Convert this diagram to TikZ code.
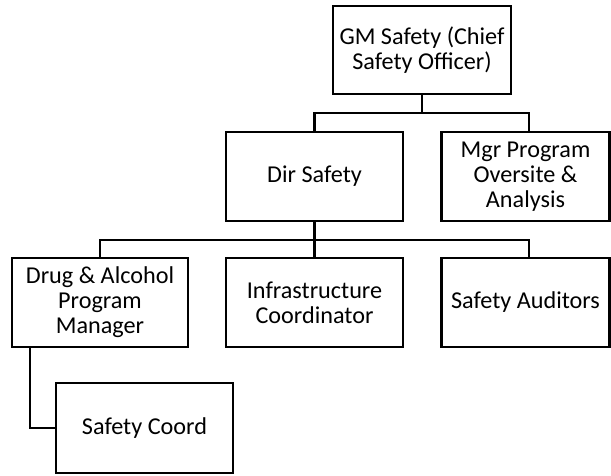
\documentclass[tikz,border=0pt]{standalone}
\usepackage{fontspec}
\setmainfont{Carlito}
\begin{document}
\begin{tikzpicture}[x=1pt,y=-1pt,
  box/.style={draw=black,line width=2.8pt,fill=white,rectangle,align=center,
    inner sep=2pt,font=\fontsize{24.2}{25}\selectfont},
  conn/.style={draw=black,line width=2.8pt}]
\useasboundingbox (0,0) rectangle (611,475);
\node[box,minimum width=178pt,minimum height=88pt] (gm) at (422,50) {GM Safety (Chief\\Safety Officer)};
\node[box,minimum width=177pt,minimum height=89pt] (dir) at (314.5,176.5) {Dir Safety};
\node[box,minimum width=168pt,minimum height=89pt] (mgr) at (525.5,176.5) {Mgr Program\\Oversite \&\\Analysis};
\node[box,minimum width=176pt,minimum height=89pt] (drug) at (100,302.5) {Drug \& Alcohol\\Program\\Manager};
\node[box,minimum width=177pt,minimum height=89pt] (infra) at (314.5,302.5) {Infrastructure\\Coordinator};
\node[box,minimum width=168pt,minimum height=89pt] (aud) at (525.5,302.5) {Safety Auditors};
\node[box,minimum width=177pt,minimum height=90pt] (sc) at (144.5,428) {Safety Coord};
\coordinate (j1) at (422,113);
\coordinate (j2) at (314.5,240);
\draw[conn] (gm.south) -- (j1);
\draw[conn] (dir.north) |- ([xshift=3.5pt]mgr.north |- j1) -- ([xshift=3.5pt]mgr.north);
\draw[conn] (dir.south) -- (j2) -- (infra.north);
\draw[conn] (drug.north) |- ([xshift=3.5pt]aud.north |- j2) -- ([xshift=3.5pt]aud.north);
\draw[conn] ([xshift=-70pt]drug.south) |- (sc.west);
\end{tikzpicture}
\end{document}
